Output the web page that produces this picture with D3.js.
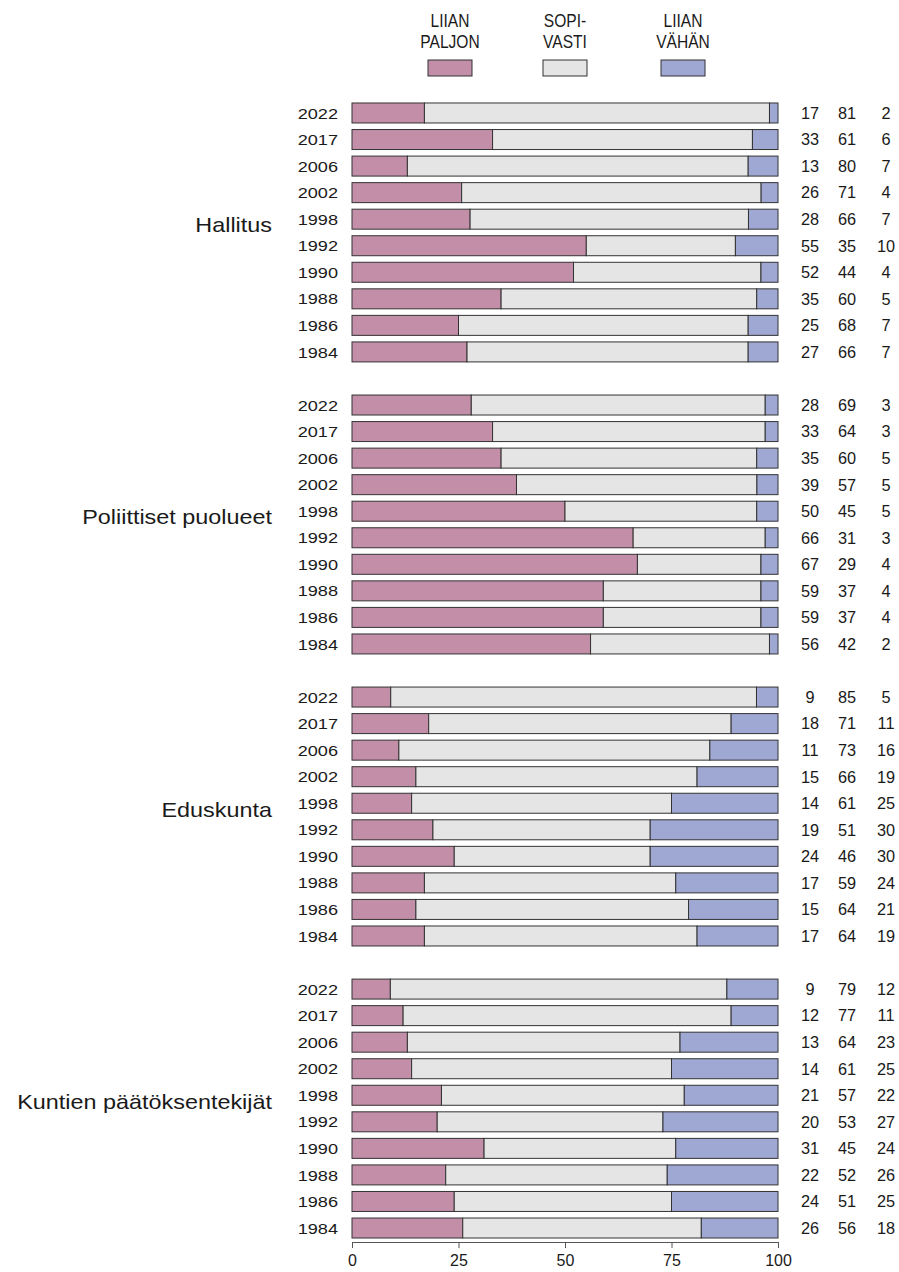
<!DOCTYPE html>
<html>
<head>
<meta charset="utf-8">
<script src="https://cdn.jsdelivr.net/npm/d3@7"></script>
<style>
  body { margin: 0; background: #fff; }
  text { font-family: "Liberation Sans", Arial, sans-serif; fill: #1a1a1a; }
</style>
</head>
<body>
<div id="chart"></div>
<script>
const groups = ["Hallitus", "Poliittiset puolueet", "Eduskunta", "Kuntien päätöksentekijät"];
const years = ["2022", "2017", "2006", "2002", "1998", "1992", "1990", "1988", "1986", "1984"];
const series = ["LIIAN PALJON", "SOPIVASTI", "LIIAN VÄHÄN"];
const legendLines = [["LIIAN", "PALJON"], ["SOPI-", "VASTI"], ["LIIAN", "VÄHÄN"]];
const colors = ["#c38ea8", "#e5e5e5", "#9fa8d3"];
const ticks = [0, 25, 50, 75, 100];

// liian paljon, sopivasti, liian vähän (per group, years in order above)
const paljon = [
  [17, 33, 13, 26, 28, 55, 52, 35, 25, 27],
  [28, 33, 35, 39, 50, 66, 67, 59, 59, 56],
  [9, 18, 11, 15, 14, 19, 24, 17, 15, 17],
  [9, 12, 13, 14, 21, 20, 31, 22, 24, 26]
];
const sopivasti = [
  [81, 61, 80, 71, 66, 35, 44, 60, 68, 66],
  [69, 64, 60, 57, 45, 31, 29, 37, 37, 42],
  [85, 71, 73, 66, 61, 51, 46, 59, 64, 64],
  [79, 77, 64, 61, 57, 53, 45, 52, 51, 56]
];
const vahan = [
  [2, 6, 7, 4, 7, 10, 4, 5, 7, 7],
  [3, 3, 5, 5, 5, 3, 4, 4, 4, 2],
  [5, 11, 16, 19, 25, 30, 30, 24, 21, 19],
  [12, 11, 23, 25, 22, 27, 24, 26, 25, 18]
];

const W = 899, H = 1272;
const svg = d3.select("#chart").append("svg")
  .attr("width", W).attr("height", H);

// one slot per year, plus an empty slot between groups
const slots = [];
groups.forEach((g, gi) => {
  years.forEach((y, yi) => slots.push(`${gi}-${yi}`));
  if (gi < groups.length - 1) slots.push(`gap${gi}`);
});

const x = d3.scaleLinear().domain([0, 100]).range([352, 778]);
const yb = d3.scaleBand().domain(slots).range([99.7, 1241.3]).paddingInner(0.247).paddingOuter(0.124);

const rows = [];
groups.forEach((g, gi) => {
  years.forEach((yr, yi) => {
    const v = [paljon[gi][yi], sopivasti[gi][yi], vahan[gi][yi]];
    const sum = d3.sum(v);
    let acc = 0;
    const segs = v.map((d, i) => {
      const s = { i, x0: acc / sum * 100, x1: (acc + d) / sum * 100 };
      acc += d;
      return s;
    });
    rows.push({ key: `${gi}-${yi}`, gi, yr, v, segs });
  });
});

const row = svg.selectAll("g.row").data(rows).enter().append("g")
  .attr("class", "row")
  .attr("transform", d => `translate(0,${yb(d.key)})`);

row.selectAll("rect").data(d => d.segs).enter().append("rect")
  .attr("x", d => x(d.x0))
  .attr("width", d => x(d.x1) - x(d.x0))
  .attr("height", yb.bandwidth())
  .attr("fill", d => colors[d.i])
  .attr("stroke", "#333")
  .attr("stroke-width", 1);

// year labels (source font is a bit wider than Arial, so stretch)
row.append("text")
  .attr("transform", `translate(338,${yb.bandwidth() / 2}) scale(1.17,1)`)
  .attr("dy", "0.36em")
  .attr("text-anchor", "end")
  .style("font-size", "15.5px")
  .text(d => d.yr);

const numX = [810, 847, 886];
row.selectAll("text.num").data(d => d.v).enter().append("text")
  .attr("class", "num")
  .attr("x", (d, i) => numX[i])
  .attr("y", yb.bandwidth() / 2)
  .attr("dy", "0.36em")
  .attr("text-anchor", "middle")
  .style("font-size", "16.3px")
  .text(d => d);

// group labels
svg.selectAll("text.group").data(groups).enter().append("text")
  .attr("class", "group")
  .attr("transform", (d, gi) => {
    const cy = (yb(`${gi}-0`) + yb(`${gi}-9`) + yb.bandwidth()) / 2;
    return `translate(272,${cy}) scale(1.17,1)`;
  })
  .attr("text-anchor", "end")
  .style("font-size", "20px")
  .text(d => d);

// x axis
const axis = d3.axisBottom(x).tickValues(ticks).tickSize(6).tickPadding(7).tickSizeOuter(0);
const ax = svg.append("g")
  .attr("transform", "translate(0,1242)")
  .call(axis);
ax.select(".domain").attr("stroke", "#555");
ax.selectAll(".tick line").attr("stroke", "#555");
ax.selectAll(".tick text")
  .style("font-size", "16px")
  .style("font-family", "'Liberation Sans', Arial, sans-serif")
  .attr("fill", "#1a1a1a");

// legend
const legX = [450, 565, 683];
const leg = svg.selectAll("g.legend").data(series).enter().append("g")
  .attr("class", "legend")
  .attr("transform", (d, i) => `translate(${legX[i]},0)`);
leg.append("rect")
  .attr("x", -22).attr("y", 60)
  .attr("width", 44).attr("height", 16)
  .attr("fill", (d, i) => colors[i])
  .attr("stroke", "#333");
leg.each(function(d, i) {
  d3.select(this).selectAll("text").data(legendLines[i]).enter().append("text")
    .attr("transform", (t, j) => `translate(0,${27 + j * 21}) scale(0.82,1)`)
    .attr("text-anchor", "middle")
    .style("font-size", "19px")
    .text(t => t);
});
</script>
</body>
</html>
